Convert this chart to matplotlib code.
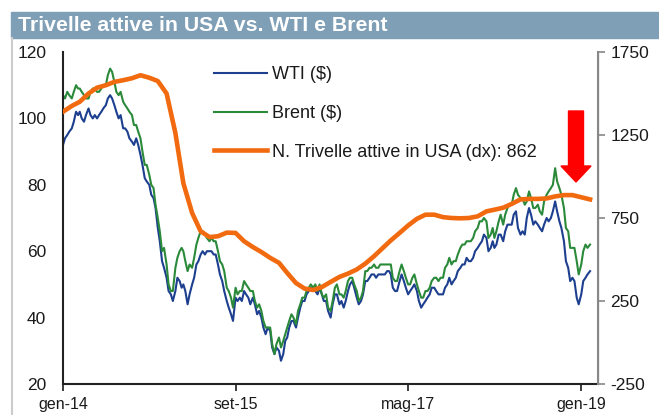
"""Trivelle attive in USA vs. WTI e Brent (gen-14 .. feb-19)."""

import datetime as dt

import matplotlib

matplotlib.use("Agg")
import matplotlib.pyplot as plt
from matplotlib.patches import FancyArrow, Rectangle
from matplotlib.lines import Line2D

# weekly-ish samples (days 1, 8, 16, 23 of each month), gen-2014 .. 1 feb-2019
WTI = [
    92, 94, 95, 96, 97, 99, 102, 101, 102, 100, 99, 101, 103, 101, 100, 101,
    100, 101, 102, 103, 104, 106, 107, 106, 104, 102, 100, 101, 97, 97, 96, 94,
    93, 92, 94, 92, 89, 86, 82, 81, 80, 77, 76, 73, 67, 63, 57, 55,
    52, 48, 47, 45, 48, 52, 51, 49, 50, 48, 44, 47, 50, 52, 56, 57,
    59, 60, 59, 60, 60, 60, 59, 59, 56, 53, 51, 48, 45, 43, 41, 39,
    46, 45, 46, 45, 48, 47, 46, 44, 46, 44, 41, 42, 40, 37, 35, 37,
    36, 31, 29, 31, 30, 27, 29, 33, 34, 37, 39, 39, 37, 40, 43, 45,
    45, 47, 48, 49, 49, 48, 47, 49, 47, 45, 45, 42, 40, 44, 47, 47,
    44, 45, 43, 45, 48, 50, 51, 49, 46, 44, 45, 47, 51, 51, 52, 53,
    53, 52, 53, 53, 53, 53, 54, 54, 53, 49, 48, 48, 51, 53, 51, 49,
    47, 48, 49, 50, 48, 45, 43, 44, 45, 46, 47, 49, 49, 48, 47, 47,
    47, 49, 50, 52, 50, 51, 52, 54, 55, 56, 56, 58, 57, 57, 58, 60,
    61, 62, 63, 65, 64, 60, 61, 63, 61, 62, 65, 65, 63, 66, 68, 68,
    68, 71, 72, 67, 65, 66, 65, 70, 73, 71, 68, 69, 68, 67, 66, 68,
    70, 69, 70, 72, 75, 72, 69, 67, 63, 57, 55, 51, 52, 51, 46, 44,
    47, 51, 52, 53, 54,
]
BRENT = [
    107, 106, 108, 107, 106, 108, 110, 109, 109, 108, 107, 106, 106, 108, 109, 109,
    108, 108, 109, 110, 110, 113, 115, 114, 111, 108, 107, 108, 105, 104, 103, 102,
    101, 98, 98, 96, 94, 90, 86, 86, 83, 80, 79, 74, 70, 66, 60, 61,
    56, 50, 48, 48, 55, 58, 60, 61, 60, 57, 54, 56, 55, 58, 62, 64,
    66, 66, 65, 64, 63, 64, 63, 63, 60, 57, 56, 54, 49, 48, 46, 43,
    49, 47, 48, 48, 51, 50, 49, 48, 48, 45, 43, 44, 42, 39, 37, 37,
    37, 32, 29, 32, 34, 31, 33, 35, 37, 39, 41, 40, 38, 42, 44, 46,
    46, 48, 49, 50, 49, 50, 48, 50, 47, 46, 47, 43, 42, 45, 49, 50,
    47, 47, 46, 48, 51, 52, 52, 50, 48, 45, 46, 48, 54, 54, 55, 55,
    56, 55, 55, 56, 56, 56, 56, 56, 56, 52, 51, 51, 54, 56, 54, 52,
    50, 50, 52, 53, 50, 48, 46, 46, 48, 48, 49, 51, 52, 52, 51, 52,
    52, 55, 56, 58, 56, 57, 57, 59, 61, 62, 62, 63, 63, 63, 64, 66,
    67, 69, 69, 70, 69, 64, 65, 67, 64, 66, 69, 71, 68, 71, 73, 74,
    74, 77, 79, 77, 76, 76, 74, 75, 78, 76, 73, 73, 74, 72, 71, 75,
    77, 78, 79, 80, 85, 81, 79, 77, 73, 67, 66, 61, 61, 61, 57, 53,
    56, 60, 62, 61, 62,
]
# oil rigs, first of each month, gen-2014 .. feb-2019
RIGS = [
    1390, 1425, 1450, 1500, 1535, 1550, 1570, 1580, 1592, 1610, 1595, 1575,
    1500, 1262, 960, 780, 670, 635, 640, 662, 660, 610, 575, 545,
    510, 480, 419, 358, 325, 316, 334, 365, 395, 415, 440, 475,
    520, 570, 615, 660, 705, 745, 770, 770, 755, 750, 748, 750,
    760, 790, 800, 812, 835, 862, 865, 865, 868, 880, 888, 888,
    875, 862,
]
RIG_LAST = 862

X_TICK_MONTHS = [(2014, 1), (2015, 9), (2017, 5), (2019, 1)]
X_TICK_LABELS = ["gen-14", "set-15", "mag-17", "gen-19"]
LEFT_TICKS = [20, 40, 60, 80, 100, 120]
RIGHT_TICKS = [-250, 250, 750, 1250, 1750]

TITLE = "Trivelle attive in USA vs. WTI e Brent"
LABELS = ["WTI ($)", "Brent ($)", f"N. Trivelle attive in USA (dx): {RIG_LAST}"]

BLUE = "#1d3f8f"
GREEN = "#2a8a3a"
ORANGE = "#f26a0f"
BAR = "#7f9fb6"
TEXT = "#1a1a1a"

plt.rcParams["font.family"] = ["Liberation Sans", "DejaVu Sans"]
plt.rcParams["axes.unicode_minus"] = False


def weekly_dates(n):
    out = []
    year, month = 2014, 1
    while len(out) < n:
        for day in (1, 8, 16, 23):
            out.append(dt.date(year, month, day))
        month += 1
        if month > 12:
            year, month = year + 1, 1
    return out[:n]


def monthly_dates(n):
    return [dt.date(2014 + i // 12, i % 12 + 1, 1) for i in range(n)]


def main():
    fig = plt.figure(figsize=(6.59, 4.15), dpi=100)

    # title bar + thin frame on the left
    fig.patches.append(Rectangle((11 / 659, 1 - 38 / 415), 1, 26 / 415,
                                 transform=fig.transFigure, color=BAR, zorder=0))
    fig.lines.append(Line2D([12 / 659, 12 / 659], [0, 1 - 38 / 415],
                            transform=fig.transFigure, color="#cccccc", lw=1.5))
    fig.text(18 / 659, 1 - 25.5 / 415, TITLE, color="white", fontsize=15.3,
             fontweight="bold", va="center", ha="left")

    ax = fig.add_axes([63 / 659, 1 - 384 / 415, 535 / 659, 332 / 415])
    ax2 = ax.twinx()

    oil_dates = weekly_dates(len(WTI))
    rig_dates = monthly_dates(len(RIGS))

    l1, = ax.plot(oil_dates, WTI, color=BLUE, lw=1.5)
    l2, = ax.plot(oil_dates, BRENT, color=GREEN, lw=1.5)
    l3, = ax2.plot(rig_dates, RIGS, color=ORANGE, lw=3.3)

    ax.set_xlim(dt.date(2014, 1, 1), dt.date(2019, 3, 1))
    ax.set_ylim(20, 120)
    ax2.set_ylim(-250, 1750)

    ax.set_xticks([dt.date(y, m, 1) for y, m in X_TICK_MONTHS])
    ax.set_xticklabels(X_TICK_LABELS)
    ax.set_yticks(LEFT_TICKS)
    ax2.set_yticks(RIGHT_TICKS)

    ax.tick_params(axis="x", direction="out", length=5, width=1.2,
                   labelsize=11.5, colors=TEXT, pad=4)
    ax.tick_params(axis="y", length=0, labelsize=12.5, colors=TEXT, pad=12)
    ax2.tick_params(axis="y", direction="out", length=5, width=1.2,
                    color="#888888", labelcolor=TEXT, labelsize=12.5, pad=4)

    for a in (ax, ax2):
        a.spines["top"].set_visible(False)
    ax.spines["left"].set_color("#222222")
    ax.spines["left"].set_linewidth(1.5)
    ax.spines["bottom"].set_color("#222222")
    ax.spines["bottom"].set_linewidth(1.5)
    ax2.spines["left"].set_visible(False)
    ax2.spines["bottom"].set_visible(False)
    ax2.spines["right"].set_color("#888888")
    ax2.spines["right"].set_linewidth(1.5)

    leg = ax2.legend([l1, l2, l3], LABELS, loc="upper left",
                     bbox_to_anchor=((207 - 63) / 535, 1 - 7 / 332),
                     frameon=False, fontsize=13, handlelength=2.9,
                     handletextpad=0.3, labelspacing=1.2, borderaxespad=0)
    for t in leg.get_texts():
        t.set_color(TEXT)

    # red arrow pointing at the latest rig count
    ax2.add_patch(FancyArrow((576 - 63) / 535, (384 - 111) / 332, 0,
                             -(182 - 111) / 332, width=15 / 535,
                             head_width=30 / 535, head_length=16 / 332,
                             length_includes_head=True, color="#ff0000",
                             transform=ax2.transAxes, zorder=5))

    fig.savefig("out.png", dpi=100)


if __name__ == "__main__":
    main()
